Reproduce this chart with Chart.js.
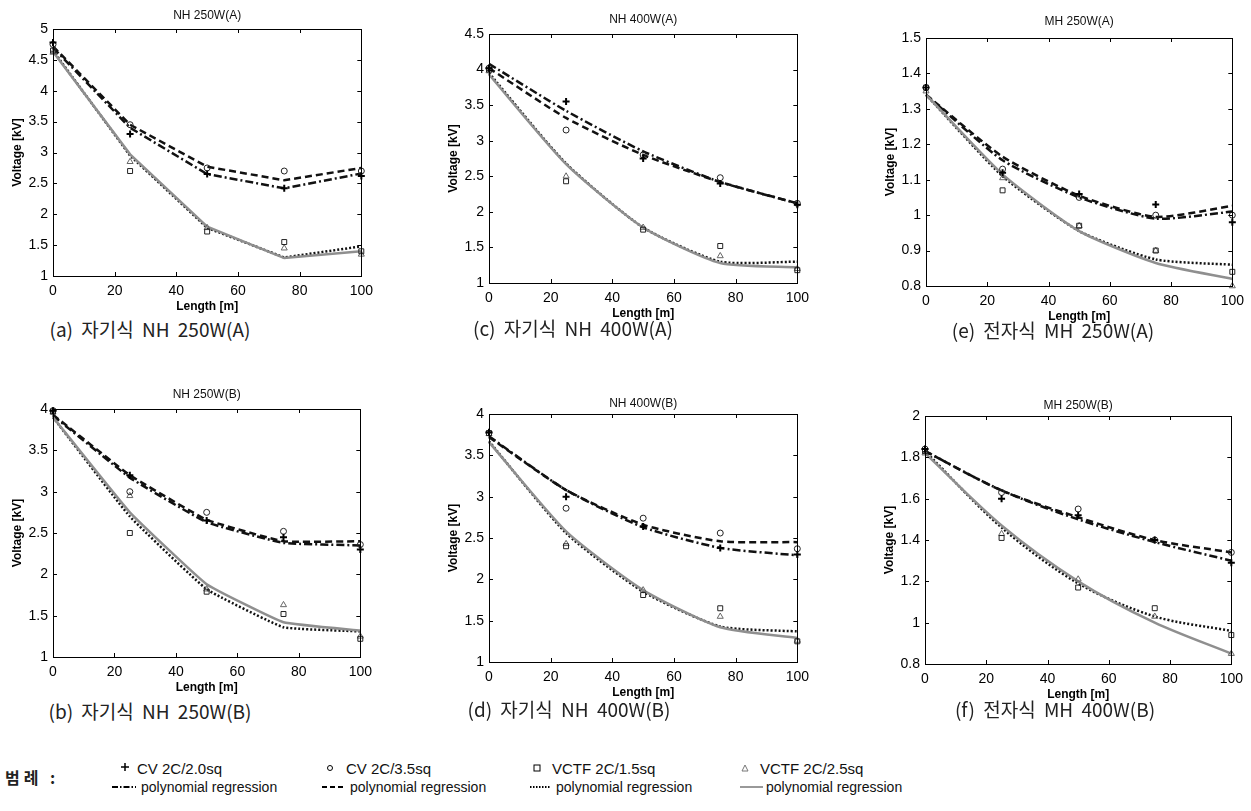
<!DOCTYPE html>
<html>
<head>
<meta charset="utf-8">
<script src="https://cdn.jsdelivr.net/npm/chart.js@4.4.0/dist/chart.umd.min.js"></script>
<style>
  body { margin: 0; background: #fff; width: 1251px; height: 811px; position: relative; overflow: hidden; }
  .panel { position: absolute; }
  .cap { position: absolute; font-family: "Noto Sans CJK KR", "Liberation Sans", sans-serif; font-size: 19px; color: #222; word-spacing: 4px; white-space: nowrap; transform: translate(-50%, -50%); }
  .lg { position: absolute; font-family: "Liberation Sans", Arial, sans-serif; color: #111; white-space: nowrap; transform: translateY(-50%); }
  .lg1 { font-size: 15px; }
  .lg2 { font-size: 14px; }
  .lgk { position: absolute; font-family: "Noto Sans CJK KR", serif; font-size: 16px; font-weight: bold; color: #222; letter-spacing: 4px; transform: translateY(-50%); }
  svg.s { position: absolute; }
</style>
</head>
<body>

<div class="panel" style="left:0px;top:0px"><canvas id="ga" width="380" height="314"></canvas></div>
<div class="panel" style="left:436px;top:0px"><canvas id="gc" width="380" height="321"></canvas></div>
<div class="panel" style="left:873px;top:0px"><canvas id="ge" width="378" height="324"></canvas></div>
<div class="panel" style="left:0px;top:380px"><canvas id="gb" width="379" height="315"></canvas></div>
<div class="panel" style="left:436px;top:380px"><canvas id="gd" width="380" height="320"></canvas></div>
<div class="panel" style="left:872px;top:380px"><canvas id="gf" width="378" height="322"></canvas></div>

<div class="cap" style="left:150px;top:328px">(a) 자기식 NH 250W(A)</div>
<div class="cap" style="left:573px;top:327px">(c) 자기식 NH 400W(A)</div>
<div class="cap" style="left:1053px;top:329px">(e) 전자식 MH 250W(A)</div>
<div class="cap" style="left:150px;top:710px">(b) 자기식 NH 250W(B)</div>
<div class="cap" style="left:569px;top:708px">(d) 자기식 NH 400W(B)</div>
<div class="cap" style="left:1055px;top:708px">(f) 전자식 MH 400W(B)</div>

<!-- legend -->
<div class="lgk" style="left:5px;top:777px">범례 :</div>

<svg class="s" style="left:120px;top:762px" width="10" height="10"><path d="M5 1 V9 M1 5 H9" stroke="#000" stroke-width="1.5"/></svg>
<div class="lg lg1" style="left:137px;top:768px">CV 2C/2.0sq</div>
<svg class="s" style="left:112px;top:783px" width="24" height="8"><line x1="0" y1="4" x2="24" y2="4" stroke="#000" stroke-width="2" stroke-dasharray="6,2,1.5,2"/></svg>
<div class="lg lg2" style="left:141px;top:787px">polynomial regression</div>

<svg class="s" style="left:325px;top:763px" width="10" height="10"><circle cx="5" cy="5" r="2.5" fill="none" stroke="#000" stroke-width="1"/></svg>
<div class="lg lg1" style="left:346px;top:768px">CV 2C/3.5sq</div>
<svg class="s" style="left:322px;top:783px" width="24" height="8"><line x1="0" y1="4" x2="24" y2="4" stroke="#000" stroke-width="2" stroke-dasharray="5,3"/></svg>
<div class="lg lg2" style="left:350px;top:787px">polynomial regression</div>

<svg class="s" style="left:532px;top:763px" width="10" height="10"><rect x="2" y="2" width="6" height="6" fill="none" stroke="#000" stroke-width="1"/></svg>
<div class="lg lg1" style="left:552px;top:768px">VCTF 2C/1.5sq</div>
<svg class="s" style="left:530px;top:783px" width="21" height="8"><line x1="0" y1="4" x2="21" y2="4" stroke="#000" stroke-width="2" stroke-dasharray="1.5,1.5"/></svg>
<div class="lg lg2" style="left:556px;top:787px">polynomial regression</div>

<svg class="s" style="left:740px;top:763px" width="10" height="10"><path d="M5 2 L8 8 L2 8 Z" fill="none" stroke="#777" stroke-width="1"/></svg>
<div class="lg lg1" style="left:760px;top:768px">VCTF 2C/2.5sq</div>
<svg class="s" style="left:740px;top:783px" width="23" height="8"><line x1="0" y1="4" x2="23" y2="4" stroke="#999" stroke-width="2"/></svg>
<div class="lg lg2" style="left:766px;top:787px">polynomial regression</div>

<script>
// cable length [m]
const lengthM = [0, 25, 50, 75, 100];

// (a) NH 250W(A)
const nh250a_cv20   = [4.78, 3.30, 2.65, 2.42, 2.62];
const nh250a_cv35   = [4.75, 3.45, 2.75, 2.70, 2.70];
const nh250a_vctf15 = [4.65, 2.70, 1.72, 1.55, 1.40];
const nh250a_vctf25 = [4.62, 2.85, 1.78, 1.45, 1.35];
const nh250a_fit1   = [4.70, 3.40, 2.65, 2.42, 2.66];
const nh250a_fit2   = [4.72, 3.45, 2.77, 2.55, 2.75];
const nh250a_fit3   = [4.65, 2.95, 1.78, 1.30, 1.48];
const nh250a_fit4   = [4.63, 2.97, 1.80, 1.29, 1.40];

// (c) NH 400W(A)
const nh400a_cv20   = [4.02, 3.55, 2.75, 2.40, 2.10];
const nh400a_cv35   = [4.02, 3.15, 2.80, 2.48, 2.12];
const nh400a_vctf15 = [4.00, 2.43, 1.75, 1.52, 1.18];
const nh400a_vctf25 = [3.98, 2.50, 1.78, 1.38, 1.20];
const nh400a_fit1   = [4.08, 3.42, 2.85, 2.42, 2.12];
const nh400a_fit2   = [4.02, 3.32, 2.80, 2.42, 2.12];
const nh400a_fit3   = [3.95, 2.68, 1.78, 1.30, 1.30];
const nh400a_fit4   = [3.93, 2.67, 1.78, 1.28, 1.22];

// (e) MH 250W(A)
const mh250a_cv20   = [1.36, 1.12, 1.06, 1.03, 0.98];
const mh250a_cv35   = [1.36, 1.13, 1.05, 1.00, 1.00];
const mh250a_vctf15 = [1.36, 1.07, 0.97, 0.90, 0.84];
const mh250a_vctf25 = [1.35, 1.105, 0.97, 0.90, 0.80];
const mh250a_fit1   = [1.34, 1.155, 1.05, 0.99, 1.01];
const mh250a_fit2   = [1.34, 1.165, 1.055, 0.995, 1.026];
const mh250a_fit3   = [1.34, 1.11, 0.955, 0.875, 0.86];
const mh250a_fit4   = [1.34, 1.115, 0.955, 0.865, 0.82];

// (b) NH 250W(B)
const nh250b_cv20   = [3.98, 3.20, 2.65, 2.45, 2.30];
const nh250b_cv35   = [3.98, 3.00, 2.75, 2.52, 2.36];
const nh250b_vctf15 = [3.97, 2.50, 1.79, 1.52, 1.22];
const nh250b_vctf25 = [3.96, 2.95, 1.82, 1.63, 1.25];
const nh250b_fit1   = [3.92, 3.17, 2.63, 2.38, 2.35];
const nh250b_fit2   = [3.93, 3.20, 2.66, 2.40, 2.40];
const nh250b_fit3   = [3.90, 2.70, 1.82, 1.36, 1.31];
const nh250b_fit4   = [3.90, 2.75, 1.88, 1.42, 1.32];

// (d) NH 400W(B)
const nh400b_cv20   = [3.78, 3.00, 2.64, 2.38, 2.30];
const nh400b_cv35   = [3.77, 2.86, 2.74, 2.56, 2.37];
const nh400b_vctf15 = [3.77, 2.40, 1.81, 1.65, 1.25];
const nh400b_vctf25 = [3.76, 2.43, 1.87, 1.55, 1.26];
const nh400b_fit1   = [3.73, 3.08, 2.63, 2.38, 2.29];
const nh400b_fit2   = [3.72, 3.08, 2.66, 2.46, 2.45];
const nh400b_fit3   = [3.67, 2.56, 1.85, 1.43, 1.37];
const nh400b_fit4   = [3.66, 2.58, 1.87, 1.42, 1.29];

// (f) MH 250W(B)
const mh250b_cv20   = [1.84, 1.60, 1.52, 1.40, 1.29];
const mh250b_cv35   = [1.84, 1.63, 1.55, 1.40, 1.34];
const mh250b_vctf15 = [1.83, 1.41, 1.17, 1.07, 0.94];
const mh250b_vctf25 = [1.82, 1.43, 1.21, 1.03, 0.85];
const mh250b_fit1   = [1.83, 1.64, 1.50, 1.39, 1.30];
const mh250b_fit2   = [1.83, 1.64, 1.51, 1.40, 1.34];
const mh250b_fit3   = [1.83, 1.46, 1.19, 1.03, 0.96];
const mh250b_fit4   = [1.82, 1.47, 1.20, 1.00, 0.85];

// frame with inward ticks + title over the plot box (matlab look)
const boxPlugin = {
    id: 'box',
    afterDraw(chart, args, opts) {
        const ctx = chart.ctx;
        const ca = chart.chartArea;
        const sx = chart.scales.x, sy = chart.scales.y;
        ctx.save();
        ctx.strokeStyle = '#000';
        ctx.lineWidth = 1;
        ctx.strokeRect(Math.round(ca.left) + 0.5, Math.round(ca.top) + 0.5,
            Math.round(ca.right - ca.left), Math.round(ca.bottom - ca.top));
        ctx.beginPath();
        sx.ticks.forEach(function(t) {
            const px = Math.round(sx.getPixelForValue(t.value)) + 0.5;
            ctx.moveTo(px, ca.bottom); ctx.lineTo(px, ca.bottom - 4);
            ctx.moveTo(px, ca.top); ctx.lineTo(px, ca.top + 4);
        });
        sy.ticks.forEach(function(t) {
            const py = Math.round(sy.getPixelForValue(t.value)) + 0.5;
            ctx.moveTo(ca.left, py); ctx.lineTo(ca.left + 4, py);
            ctx.moveTo(ca.right, py); ctx.lineTo(ca.right - 4, py);
        });
        ctx.stroke();
        ctx.fillStyle = '#111';
        ctx.font = '12px "Liberation Sans", Arial, sans-serif';
        ctx.textAlign = 'center';
        ctx.textBaseline = 'middle';
        ctx.fillText(opts.text, (ca.left + ca.right) / 2, ca.top - opts.gap);
        ctx.restore();
    }
};

function xy(vals) {
    return lengthM.map(function(x, i) { return {x: x, y: vals[i]}; });
}

function fitLine(vals, dash, color, tension) {
    return {
        data: xy(vals), showLine: true, pointRadius: 0, borderColor: color,
        borderWidth: 2.5, borderDash: dash, tension: tension, fill: false, clip: false, order: 2
    };
}

function marks(vals, style, color, r) {
    return {
        data: xy(vals), showLine: false, pointStyle: style, pointRadius: r,
        pointBorderColor: color, pointBackgroundColor: 'rgba(0,0,0,0)',
        pointBorderWidth: style === 'cross' ? 2 : 1, clip: false, order: 1
    };
}

function makePanel(id, title, gap, padTop, padRight, yMin, yMax, yStep, pts, fits, tension) {
    const config = {
        type: 'scatter',
        data: {
            datasets: [
                fitLine(fits[3], [], '#8f8f8f', tension),
                fitLine(fits[2], [2, 2], '#111', tension),
                fitLine(fits[1], [7, 4], '#111', tension),
                fitLine(fits[0], [8, 3, 2, 3], '#111', tension),
                marks(pts[0], 'cross', '#000', 3.5),
                marks(pts[1], 'circle', '#222', 3),
                marks(pts[2], 'rect', '#222', 3.5),
                marks(pts[3], 'triangle', '#666', 3.5)
            ]
        },
        options: {
            responsive: false,
            animation: false,
            layout: { padding: { top: padTop, right: padRight, left: 0, bottom: 0 } },
            plugins: {
                legend: { display: false },
                tooltip: { enabled: false },
                box: { text: title, gap: gap }
            },
            scales: {
                x: {
                    type: 'linear', min: 0, max: 100,
                    grid: { display: false, drawTicks: false },
                    border: { display: false },
                    ticks: { stepSize: 20, maxRotation: 0, padding: 7, color: '#000',
                        font: { family: '"Liberation Sans", Arial', size: 14 } },
                    title: { display: true, text: 'Length [m]', color: '#000', padding: 0,
                        font: { family: '"Liberation Sans", Arial', size: 12, weight: 'bold' } },
                    afterFit: function(scale) { scale.height = 38; }
                },
                y: {
                    min: yMin, max: yMax,
                    grid: { display: false, drawTicks: false },
                    border: { display: false },
                    ticks: { stepSize: yStep, autoSkip: false, padding: 5, color: '#000',
                        font: { family: '"Liberation Sans", Arial', size: 14 },
                        callback: function(v) { return parseFloat(v.toFixed(2)); } },
                    title: { display: true, text: 'Voltage [kV]', color: '#000', padding: { top: 10, bottom: 0 },
                        font: { family: '"Liberation Sans", Arial', size: 12, weight: 'bold' } },
                    afterFit: function(scale) { scale.width = 53; }
                }
            }
        },
        plugins: [boxPlugin]
    };
    return new Chart(document.getElementById(id), config);
}

makePanel('ga', 'NH 250W(A)', 13, 29, 16, 1, 5, 0.5,
    [nh250a_cv20, nh250a_cv35, nh250a_vctf15, nh250a_vctf25],
    [nh250a_fit1, nh250a_fit2, nh250a_fit3, nh250a_fit4], 0);
makePanel('gc', 'NH 400W(A)', 14, 34, 16, 1, 4.5, 0.5,
    [nh400a_cv20, nh400a_cv35, nh400a_vctf15, nh400a_vctf25],
    [nh400a_fit1, nh400a_fit2, nh400a_fit3, nh400a_fit4], 0.2);
makePanel('ge', 'MH 250W(A)', 16, 38, 15, 0.8, 1.5, 0.1,
    [mh250a_cv20, mh250a_cv35, mh250a_vctf15, mh250a_vctf25],
    [mh250a_fit1, mh250a_fit2, mh250a_fit3, mh250a_fit4], 0.2);
makePanel('gb', 'NH 250W(B)', 14, 29, 16, 1, 4, 0.5,
    [nh250b_cv20, nh250b_cv35, nh250b_vctf15, nh250b_vctf25],
    [nh250b_fit1, nh250b_fit2, nh250b_fit3, nh250b_fit4], 0.1);
makePanel('gd', 'NH 400W(B)', 10, 34, 16, 1, 4, 0.5,
    [nh400b_cv20, nh400b_cv35, nh400b_vctf15, nh400b_vctf25],
    [nh400b_fit1, nh400b_fit2, nh400b_fit3, nh400b_fit4], 0.2);
makePanel('gf', 'MH 250W(B)', 10, 36, 15, 0.8, 2, 0.2,
    [mh250b_cv20, mh250b_cv35, mh250b_vctf15, mh250b_vctf25],
    [mh250b_fit1, mh250b_fit2, mh250b_fit3, mh250b_fit4], 0.3);
</script>
</body>
</html>
